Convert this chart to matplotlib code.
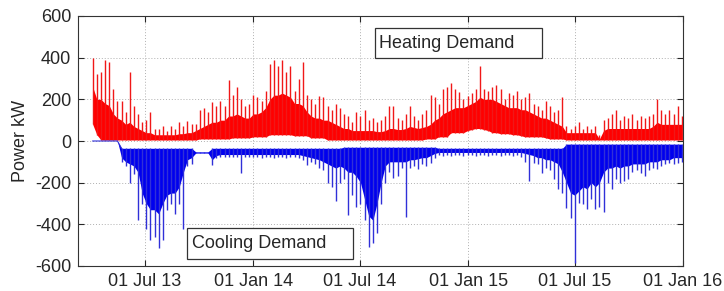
import matplotlib
matplotlib.use("Agg")
import matplotlib.pyplot as plt
import matplotlib.dates as mdates
from matplotlib.patches import Rectangle
import pandas as pd
import numpy as np

# weekly samples, starting 3 Apr 2013
start_date = "2013-04-03"
n_weeks = 144

heat_peak = [400,320,330,390,380,250,190,190,140,330,
             170,130,90,100,140,60,60,70,50,70,
             60,90,70,95,80,80,150,160,140,185,
             170,190,170,295,220,260,200,170,180,220,
             210,190,240,370,390,360,390,330,360,240,
             300,380,220,200,180,215,210,170,150,180,
             160,130,120,90,140,120,150,100,110,90,
             100,120,170,170,110,100,130,170,120,100,
             130,150,220,210,180,250,260,280,250,235,
             200,215,230,250,360,250,240,260,270,250,
             200,230,220,240,200,210,230,180,170,150,
             190,170,140,150,210,70,60,70,90,60,
             70,60,70,30,100,110,130,150,100,120,
             110,130,100,120,110,120,130,200,150,130,
             150,130,170,120]

heat_band = [260,200,200,180,170,130,110,100,80,90,
             70,60,50,40,40,30,30,30,30,30,
             30,35,35,40,40,50,60,70,80,90,
             90,100,100,120,120,130,120,110,110,130,
             130,140,160,200,220,220,230,220,210,180,
             180,170,140,120,110,110,100,100,90,80,
             70,60,60,50,50,50,50,50,50,45,
             45,50,60,60,55,55,60,70,65,60,
             65,70,80,100,110,130,140,150,160,160,
             160,170,180,190,210,200,200,200,190,180,
             170,160,160,160,150,150,140,130,120,110,
             110,100,90,80,70,40,40,40,40,40,
             40,40,40,10,50,60,60,60,60,60,
             60,60,60,60,60,60,70,90,80,80,
             80,80,80,80]

heat_low = [80,30,5,5,5,5,5,5,5,5,
            5,5,5,5,5,5,5,5,5,5,
            5,5,5,5,5,5,10,10,10,10,
            10,10,10,10,15,15,15,15,15,20,
            20,20,20,30,30,30,30,30,30,25,
            25,25,25,15,15,15,15,5,5,5,
            5,5,5,5,5,5,5,5,5,5,
            5,5,5,5,5,5,5,5,5,5,
            5,10,10,10,20,20,20,40,40,40,
            40,50,55,60,60,55,50,40,40,35,
            35,35,30,30,25,20,20,20,20,20,
            15,10,10,10,10,5,5,5,5,5,
            5,5,5,5,5,5,5,5,5,5,
            5,5,5,5,5,5,5,5,5,5,
            5,5,5,5]

cool_top = ([0]*7 + [-35]*18 + [-52]*4 + [-35]*32 + [-30]*23 + [-35]*31 + [-15]*29)

cool_band = ([0]*7 +
             [-80,-100,-110] +
             [-120,-150,-250,-300,-330,-330,-350,-300,-260,-250] +
             [-250,-220,-150,-90,-80] +
             [-58]*4 +
             [-90,-70,-65,-65,-65,-65,-65] +
             [-65]*15 +
             [-70,-75,-80,-85,-90,-100,-110,-120,-130,-120] +
             [-130,-150,-150,-170,-200,-280,-360,-380,-300,-200] +
             [-120,-100,-100,-100,-100,-100,-90,-90,-85,-80,-80,-70,-60] +
             [-55]*21 +
             [-60,-65,-70,-80,-80,-90,-90,-100,-110,-150] +
             [-200,-250,-260,-240,-220,-230,-200,-220,-200,-150] +
             [-130,-130,-120,-130,-120,-120,-110,-110,-110,-110] +
             [-100,-100,-100,-90,-90,-90,-80,-80,-80])

cool_peak = ([0]*7 +
             [-100,-120,-200] +
             [-160,-380,-300,-420,-475,-460,-515,-475,-330,-300] +
             [-350,-300,-420,-120,-110] +
             [-58]*4 +
             [-115,-80,-75,-75,-75,-75,-75] +
             [-155,-75,-75,-75,-75,-80,-75,-75,-80,-75,-75,-80,-75,-75,-80] +
             [-90,-115,-100,-110,-130,-140,-200,-220,-290,-200] +
             [-184,-355,-260,-315,-300,-380,-507,-490,-440,-300] +
             [-200,-150,-176,-170,-130,-363,-130,-120,-136,-110,-120,-104,-80] +
             [-65,-70,-65,-70,-65,-65,-70,-65,-65,-70,-65,-65,-70,-65,-65,-70,-65,-65,-70,-65,-75] +
             [-100,-192,-104,-110,-152,-130,-140,-180,-232,-248] +
             [-320,-368,-586,-296,-300,-328,-280,-328,-315,-339] +
             [-200,-232,-180,-200,-190,-184,-150,-140,-152,-168] +
             [-140,-130,-136,-120,-110,-104,-110,-104,-100])

tick_dates = ["2013-07-01", "2014-01-01", "2014-07-01", "2015-01-01", "2015-07-01", "2016-01-01"]
tick_labels = ["01 Jul 13", "01 Jan 14", "01 Jul 14", "01 Jan 15", "01 Jul 15", "01 Jan 16"]
y_ticks = [-600, -400, -200, 0, 200, 400, 600]

plt.rcParams['font.family'] = ['Liberation Sans', 'DejaVu Sans']

dates = pd.date_range(start_date, periods=n_weeks, freq="7D")

fig = plt.figure(figsize=(7.24, 2.91), dpi=100)
ax = fig.add_axes([78/724, 1-266/291, (683-78)/724, (266-16)/291])

# heating
ax.fill_between(dates, heat_low, heat_band, color="#ff0000", lw=0, zorder=3)
ax.vlines(dates, heat_low, heat_peak, color="#f01818", lw=1.0, zorder=3)
# cooling
ax.fill_between(dates, cool_band, cool_top, color="#0000ee", lw=0, zorder=3)
ax.vlines(dates, cool_top, cool_peak, color="#3030d8", lw=1.0, zorder=3)
ax.plot(dates[:8], cool_top[:8], color="#3030d8", lw=0.8, zorder=3)

ax.set_xlim(pd.Timestamp("2013-03-09"), pd.Timestamp("2016-01-01"))
ax.set_ylim(-600, 600)
ax.set_xticks([pd.Timestamp(d) for d in tick_dates])
ax.set_xticklabels(tick_labels)
ax.set_yticks(y_ticks)
ax.set_yticklabels([str(v) for v in y_ticks])

ax.grid(True, linestyle=(0, (1, 2)), color="#b0b0b0", lw=0.7, zorder=0)
ax.tick_params(direction="in", length=4, width=0.8, top=True, right=True,
               labelsize=13, colors="#262626", pad=5)
for s in ax.spines.values():
    s.set_color("#333333")
    s.set_linewidth(0.8)

ax.set_ylabel("Power kW", fontsize=13, color="#262626", labelpad=4)

# text boxes
ax.add_patch(Rectangle((0.491, 0.832), 0.276, 0.120, transform=ax.transAxes,
                       facecolor="white", edgecolor="#333333", lw=0.9, zorder=5))
ax.text(0.4975, 0.892, "Heating Demand", transform=ax.transAxes, fontsize=13,
        va="center", ha="left", color="#262626", zorder=6)
ax.add_patch(Rectangle((0.1797, 0.027), 0.2753, 0.124, transform=ax.transAxes,
                       facecolor="white", edgecolor="#333333", lw=0.9, zorder=5))
ax.text(0.188, 0.089, "Cooling Demand", transform=ax.transAxes, fontsize=13,
        va="center", ha="left", color="#262626", zorder=6)

fig.savefig("out.png", dpi=100)
